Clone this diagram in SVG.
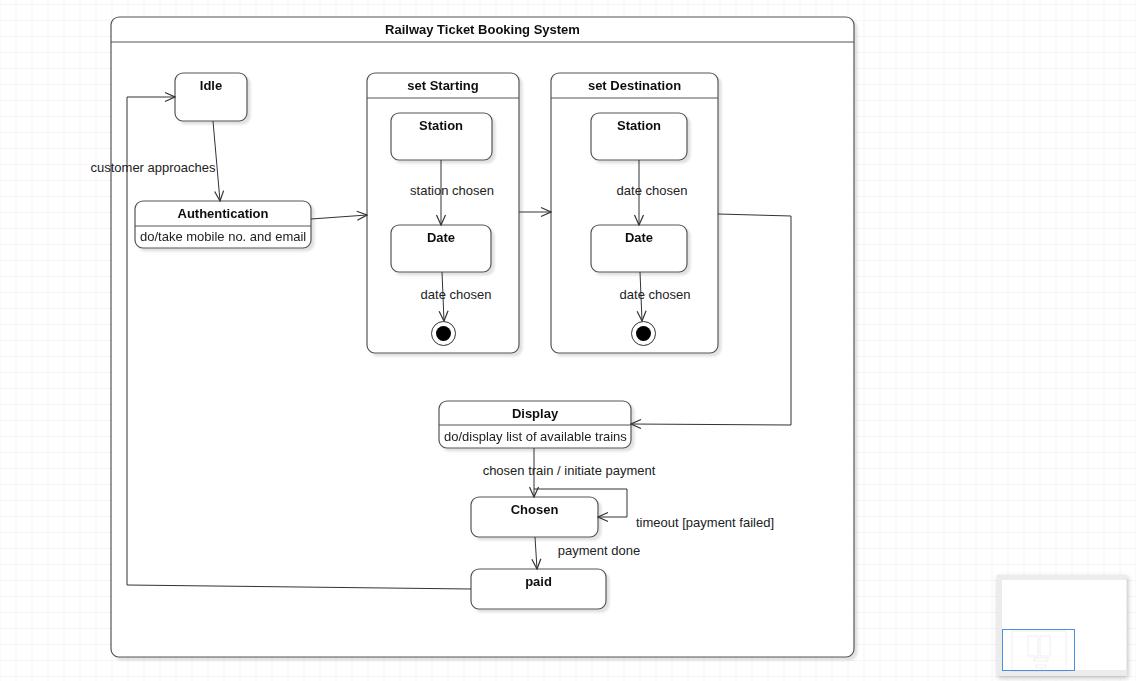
<svg xmlns="http://www.w3.org/2000/svg" width="1136" height="681" viewBox="0 0 1136 681">
  <defs>
    <pattern id="grid" x="15.5" y="4" width="16" height="16" patternUnits="userSpaceOnUse">
      <path d="M0 0H16M0 0V16" fill="none" stroke="#ececec" stroke-width="1"/>
    </pattern>
    <filter id="shadow" x="-10%" y="-10%" width="130%" height="130%">
      <feGaussianBlur in="SourceAlpha" stdDeviation="1.2"/>
      <feOffset dx="3" dy="3" result="b"/>
      <feComponentTransfer><feFuncA type="linear" slope="0.12"/></feComponentTransfer>
      <feMerge><feMergeNode/><feMergeNode in="SourceGraphic"/></feMerge>
    </filter>
    <filter id="panelShadow" x="-20%" y="-20%" width="140%" height="140%">
      <feGaussianBlur in="SourceAlpha" stdDeviation="2.5"/>
      <feOffset dx="1" dy="2"/>
      <feComponentTransfer><feFuncA type="linear" slope="0.25"/></feComponentTransfer>
      <feMerge><feMergeNode/><feMergeNode in="SourceGraphic"/></feMerge>
    </filter>
    <marker id="open" viewBox="0 0 12 12" refX="11" refY="6" markerWidth="12" markerHeight="12" markerUnits="userSpaceOnUse" orient="auto">
      <path d="M1 1.5L11 6L1 10.5" fill="none" stroke="#333" stroke-width="1.2"/>
    </marker>
  </defs>
  <style>
    .box{fill:#fff;stroke:#555;stroke-width:1.2}
    .sep{stroke:#555;stroke-width:1.2}
    .title{font-family:"Liberation Sans",Arial,sans-serif;font-size:13px;font-weight:bold;fill:#111;text-anchor:middle}
    .txt{font-family:"Liberation Sans",Arial,sans-serif;font-size:13px;fill:#222}
    .lbl{font-family:"Liberation Sans",Arial,sans-serif;font-size:13px;fill:#222;text-anchor:middle}
    .edge{fill:none;stroke:#333;stroke-width:1;marker-end:url(#open)}
  </style>

  <!-- canvas -->
  <rect width="1136" height="681" fill="#fff"/>
  <rect width="1136" height="681" fill="url(#grid)"/>

  <!-- outer container -->
  <g id="system" filter="url(#shadow)">
    <rect class="box" x="111" y="17" width="743" height="640" rx="8"/>
    <line class="sep" x1="111" y1="42" x2="854" y2="42"/>
    <text class="title" x="482.5" y="34">Railway Ticket Booking System</text>
  </g>

  <g id="idle" filter="url(#shadow)">
    <rect class="box" x="175" y="73" width="72" height="48" rx="8"/>
    <text class="title" x="211" y="90">Idle</text>
  </g>

  <g id="authentication" filter="url(#shadow)">
    <rect class="box" x="135" y="201" width="176" height="47" rx="8"/>
    <line class="sep" x1="135" y1="226" x2="311" y2="226"/>
    <text class="title" x="223" y="218">Authentication</text>
    <text class="txt" x="140" y="241">do/take mobile no. and email</text>
  </g>

  <g id="set-starting" filter="url(#shadow)">
    <rect class="box" x="367" y="73" width="152" height="280" rx="8"/>
    <line class="sep" x1="367" y1="98" x2="519" y2="98"/>
    <text class="title" x="443" y="90">set Starting</text>
  </g>
  <g id="start-station" filter="url(#shadow)">
    <rect class="box" x="391" y="113" width="101" height="47" rx="8"/>
    <text class="title" x="441" y="130">Station</text>
  </g>
  <g id="start-date" filter="url(#shadow)">
    <rect class="box" x="391" y="225" width="100" height="47" rx="8"/>
    <text class="title" x="441" y="242">Date</text>
  </g>
  <g id="start-final">
    <circle cx="443.5" cy="333.5" r="12" fill="#fff" stroke="#333" stroke-width="1"/>
    <circle cx="443.5" cy="333.5" r="7.5" fill="#000"/>
  </g>

  <g id="set-destination" filter="url(#shadow)">
    <rect class="box" x="551" y="73" width="167" height="280" rx="8"/>
    <line class="sep" x1="551" y1="98" x2="718" y2="98"/>
    <text class="title" x="634.5" y="90">set Destination</text>
  </g>
  <g id="dest-station" filter="url(#shadow)">
    <rect class="box" x="591" y="113" width="96" height="47" rx="8"/>
    <text class="title" x="639" y="130">Station</text>
  </g>
  <g id="dest-date" filter="url(#shadow)">
    <rect class="box" x="591" y="225" width="96" height="47" rx="8"/>
    <text class="title" x="639" y="242">Date</text>
  </g>
  <g id="dest-final">
    <circle cx="643.5" cy="333.5" r="12" fill="#fff" stroke="#333" stroke-width="1"/>
    <circle cx="643.5" cy="333.5" r="7.5" fill="#000"/>
  </g>

  <g id="display" filter="url(#shadow)">
    <rect class="box" x="439" y="401" width="192" height="47" rx="8"/>
    <line class="sep" x1="439" y1="425" x2="631" y2="425"/>
    <text class="title" x="535" y="418">Display</text>
    <text class="txt" x="444" y="441">do/display list of available trains</text>
  </g>

  <g id="chosen" filter="url(#shadow)">
    <rect class="box" x="471" y="497" width="127" height="40" rx="8"/>
    <text class="title" x="534.5" y="514">Chosen</text>
  </g>

  <g id="paid" filter="url(#shadow)">
    <rect class="box" x="471" y="569" width="135" height="40" rx="8"/>
    <text class="title" x="538.5" y="586">paid</text>
  </g>

  <!-- transitions -->
  <g id="connectors">
    <path class="edge" d="M213 121L220 201"/>
    <path class="edge" d="M311 219L367 215"/>
    <path class="edge" d="M519 212H551"/>
    <path class="edge" d="M718 214L791 216V425L631 424"/>
    <path class="edge" d="M441 160V225"/>
    <path class="edge" d="M442 272L444 321"/>
    <path class="edge" d="M639 160V225"/>
    <path class="edge" d="M640 272L642 321"/>
    <path class="edge" d="M534 448V497"/>
    <path class="edge" d="M534 489H627V517H598"/>
    <path class="edge" d="M535 537L537 569"/>
    <path class="edge" d="M471 589L127 585V97H175"/>
  </g>

  <!-- transition labels -->
  <g id="labels">
    <text class="lbl" x="153" y="172">customer approaches</text>
    <text class="lbl" x="452" y="195">station chosen</text>
    <text class="lbl" x="456" y="299">date chosen</text>
    <text class="lbl" x="652" y="195">date chosen</text>
    <text class="lbl" x="655" y="299">date chosen</text>
    <text class="lbl" x="569" y="475">chosen train / initiate payment</text>
    <text class="lbl" x="705" y="527">timeout [payment failed]</text>
    <text class="lbl" x="599" y="555">payment done</text>
  </g>

  <!-- overview panel -->
  <g id="overview">
    <rect x="997" y="575" width="130" height="101" fill="#ececec" filter="url(#panelShadow)"/>
    <rect x="1002" y="580" width="124" height="90" fill="#fff"/>
    <g opacity="0.3" stroke="#777" stroke-width="0.4" fill="none">
      <rect x="1012" y="631" width="54" height="40"/>
      <rect x="1028" y="636" width="10" height="20"/>
      <rect x="1040" y="636" width="10" height="20"/>
      <rect x="1034" y="658" width="14" height="3"/>
      <rect x="1036" y="665" width="10" height="3"/>
    </g>
    <rect x="1002.5" y="629.5" width="72" height="41" fill="none" stroke="#4a90e2" stroke-width="1"/>
  </g>
</svg>
